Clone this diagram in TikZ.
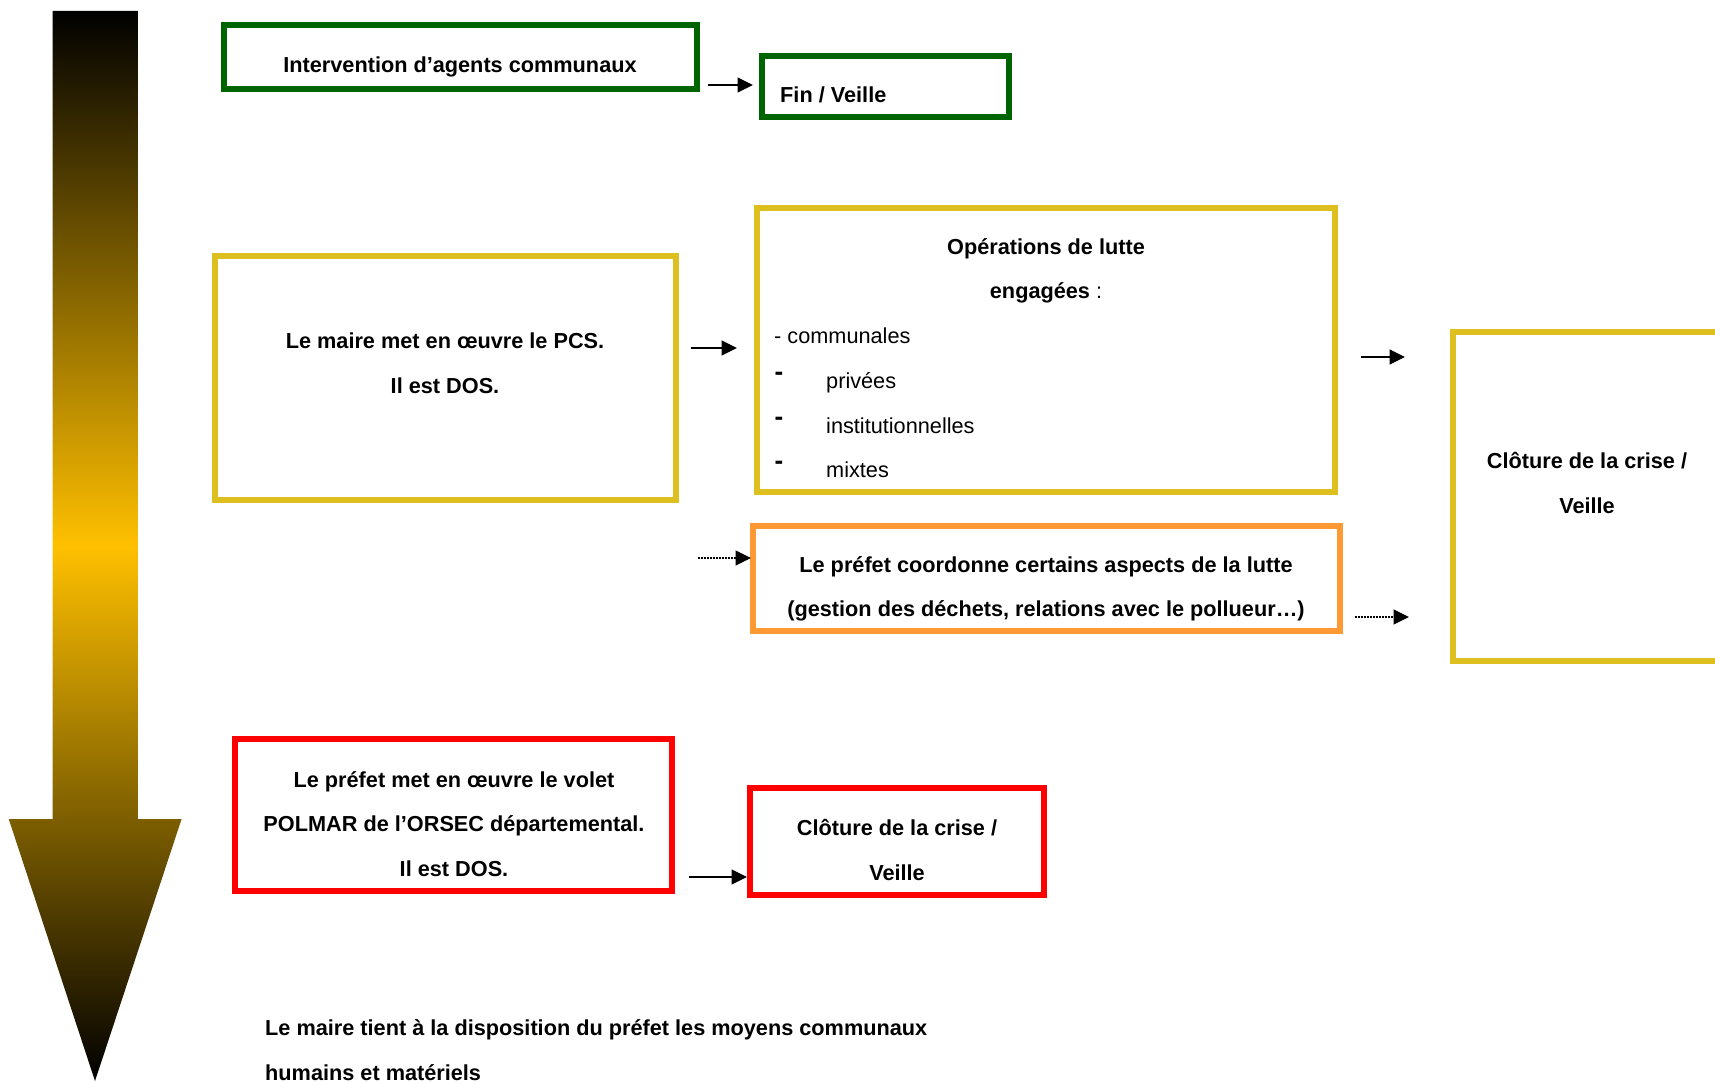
\documentclass[tikz,border=0pt]{standalone}
\usepackage{fontspec}
\setmainfont{Liberation Sans}
\usetikzlibrary{arrows.meta}
\definecolor{boxgreen}{RGB}{0,100,0}
\definecolor{boxyellow}{RGB}{221,192,32}
\definecolor{boxorange}{RGB}{255,153,51}
\definecolor{boxred}{RGB}{255,0,0}
\definecolor{arrowgold}{RGB}{255,192,0}
\tikzset{
  box/.style={draw, line width=6pt, rectangle, inner sep=0pt},
  txt/.style={font=\fontsize{21.7pt}{44.5pt}\selectfont\bfseries, inner sep=0pt, align=center},
  plaintxt/.style={font=\fontsize{21.7pt}{44.5pt}\selectfont, inner sep=0pt, align=left},
  bullet/.style={font=\fontsize{26pt}{26pt}\selectfont\bfseries, inner sep=0pt},
  conn/.style={line width=1.4pt, -{Triangle[length=15.5pt,width=15pt]}},
  dotconn/.style={conn, dash pattern=on 1.5pt off 1.5pt},
}
\begin{document}
\begin{tikzpicture}[x=1pt,y=-1pt]
\useasboundingbox (0,0) rectangle (1715,1081);
\clip (0,0) rectangle (1715,1081);
\fill[white] (0,0) rectangle (1715,1081);

% big gradient arrow
\shade[top color=black, bottom color=black, middle color=arrowgold]
  (52.5,11) -- (137.8,11) -- (137.8,819) -- (181.6,819) -- (95,1081)
  -- (8.75,819) -- (52.5,819) -- cycle;

% boxes
\node[box, draw=boxgreen, minimum width=473pt, minimum height=64pt] (g1) at (460.5,57) {};
\node[box, draw=boxgreen, minimum width=247pt, minimum height=61pt] (g2) at (885.5,86.5) {};
\node[box, draw=boxyellow, minimum width=461pt, minimum height=244pt] (y1) at (445.5,378) {};
\node[box, draw=boxyellow, minimum width=578pt, minimum height=284pt] (y2) at (1046,350) {};
\node[box, draw=boxyellow, minimum width=274pt, minimum height=329pt] (y3) at (1590,496.5) {};
\node[box, draw=boxorange, minimum width=587pt, minimum height=105pt] (o1) at (1046.5,578.5) {};
\node[box, draw=boxred, minimum width=437pt, minimum height=152pt] (r1) at (453.5,815) {};
\node[box, draw=boxred, minimum width=294pt, minimum height=107pt] (r2) at (897,841.5) {};

% texts
\node[txt] (tg1) at (460,66.5) {Intervention d’agents communaux};
\node[txt, anchor=west] (tg2) at (780,95) {Fin / Veille};
\node[txt] (ty1) at (445,363) {Le maire met en œuvre le PCS.\\Il est DOS.};
\node[txt] (ty2) at (1046,271) {Opérations de lutte\\engagées \textmd{:}};
\node[plaintxt, anchor=west] (ty2a) at (774,336) {- communales};
\node[plaintxt, anchor=north west] (ty2b) at (826,372.5) {privées\\institutionnelles\\mixtes};
\node[bullet] (b1) at (779,376.5) {-};
\node[bullet] (b2) at (779,421) {-};
\node[bullet] (b3) at (779,465.5) {-};
\node[txt] (ty3) at (1587,483) {Clôture de la crise /\\Veille};
\node[txt] (to1) at (1046,589) {Le préfet coordonne certains aspects de la lutte\\(gestion des déchets, relations avec le pollueur…)};
\node[txt] (tr1) at (454,824) {Le préfet met en œuvre le volet\\POLMAR de l’ORSEC départemental.\\Il est DOS.};
\node[txt] (tr2) at (897,850) {Clôture de la crise /\\Veille};
\node[txt, align=left, anchor=west] (tb) at (265,1050) {Le maire tient à la disposition du préfet les moyens communaux\\humains et matériels};

% connector end points
\coordinate (a1s) at (708,85);   \coordinate (a1e) at (753,85);
\coordinate (a2s) at (691,348);  \coordinate (a2e) at (737,348);
\coordinate (a3s) at (1361,357); \coordinate (a3e) at (1405,357);
\coordinate (a4s) at (698,558);  \coordinate (a4e) at (751,558);
\coordinate (a5s) at (1355,617); \coordinate (a5e) at (1409,617);
\coordinate (a6s) at (689,877);  \coordinate (a6e) at (747,877);

\draw[conn] (a1s) -- (a1e);
\draw[conn] (a2s) -- (a2e);
\draw[conn] (a3s) -- (a3e);
\draw[dotconn] (a4s) -- (a4e);
\draw[dotconn] (a5s) -- (a5e);
\draw[conn] (a6s) -- (a6e);
\end{tikzpicture}
\end{document}
